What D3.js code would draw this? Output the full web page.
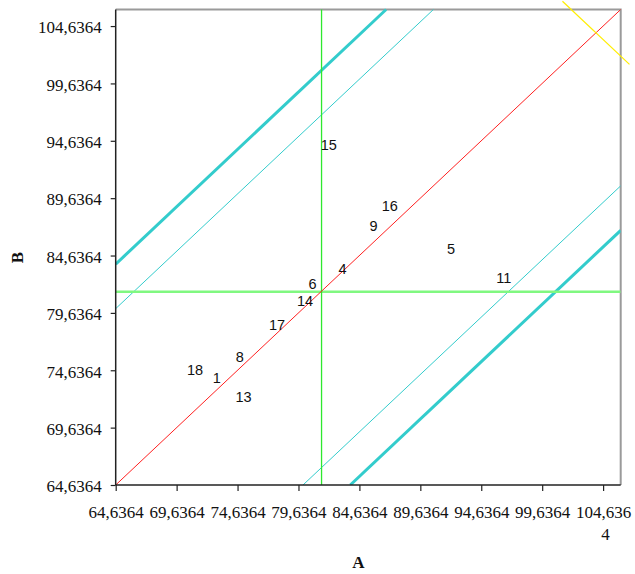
<!DOCTYPE html>
<html>
<head>
<meta charset="utf-8">
<script src="https://cdn.jsdelivr.net/npm/d3@7"></script>
<style>
  html, body { margin: 0; padding: 0; background: #fff; }
  svg { display: block; }
</style>
</head>
<body>
<svg id="chart" width="635" height="574"></svg>
<script>
// ---- data ----
const pointIds = [1, 4, 5, 6, 8, 9, 11, 13, 14, 15, 16, 17, 18];
const valuesA  = [72.93, 83.26, 92.16, 80.79, 74.82, 85.80, 96.48, 75.13, 80.18, 82.12, 87.13, 77.88, 71.15];
const valuesB  = [73.96, 83.45, 85.19, 82.15, 75.79, 87.20, 82.71, 72.30, 80.71, 94.25, 88.94, 78.57, 74.70];
const tickValues = [64.6364, 69.6364, 74.6364, 79.6364, 84.6364, 89.6364, 94.6364, 99.6364, 104.6364];
const axisMin = 64.6364;
const axisMax = 106.08;
const meanA = 81.53;
const meanB = 81.47;
const innerOffsets = [15.37, -15.37];   // thin cyan limits
const outerOffsets = [19.25, -19.25];   // thick cyan limits
const yellowSegment = [[101.3, 106.8], [106.8, 101.3]];
const xTitle = "A";
const yTitle = "B";

// ---- layout ----
const pLeft = 115.7, pRight = 620.7, pTop = 9.5, pBottom = 485;
const svg = d3.select("#chart");
const x = d3.scaleLinear().domain([axisMin, axisMax]).range([pLeft, pRight]);
const y = d3.scaleLinear().domain([axisMin, axisMax]).range([pBottom, pTop]);
const fmt = v => d3.format(".4f")(v).replace(".", ",");

svg.append("defs").append("clipPath").attr("id", "plotClip")
  .append("rect").attr("x", pLeft).attr("y", pTop - 1.5)
  .attr("width", pRight - pLeft).attr("height", pBottom - pTop + 1.5);

// frame (top & right in grey)
svg.append("path")
  .attr("d", `M${pLeft},${pTop}H${pRight}V${pBottom}`)
  .attr("fill", "none").attr("stroke", "#9a9a9a").attr("stroke-width", 2);

const plot = svg.append("g").attr("clip-path", "url(#plotClip)");
const line = d3.line().x(d => x(d[0])).y(d => y(d[1]));

function diagSegment(off) {
  const x0 = Math.max(axisMin, axisMin - off);
  const x1 = Math.min(axisMax, axisMax - off);
  return [[x0, x0 + off], [x1, x1 + off]];
}

// cyan limit lines
outerOffsets.forEach(o => {
  plot.append("path").attr("d", line(diagSegment(o)))
    .attr("fill", "none").attr("stroke", "#33cccc").attr("stroke-width", 3);
});
innerOffsets.forEach(o => {
  plot.append("path").attr("d", line(diagSegment(o)))
    .attr("fill", "none").attr("stroke", "#33cccc").attr("stroke-width", 1);
});

// mean lines
plot.append("path").attr("d", line([[axisMin, meanB], [axisMax, meanB]]))
  .attr("fill", "none").attr("stroke", "#80f880").attr("stroke-width", 2.5);
plot.append("path").attr("d", line([[meanA, axisMin], [meanA, axisMax]]))
  .attr("fill", "none").attr("stroke", "#2ee82e").attr("stroke-width", 1.3);

// identity line
plot.append("path").attr("d", line(diagSegment(0)))
  .attr("fill", "none").attr("stroke", "#ff2020").attr("stroke-width", 1);

// yellow segment (not clipped)
svg.append("path").attr("d", line(yellowSegment))
  .attr("fill", "none").attr("stroke", "#ffee00").attr("stroke-width", 1.2);

// point labels
svg.append("g").selectAll("text")
  .data(pointIds.map((id, i) => ({ id, a: valuesA[i], b: valuesB[i] })))
  .join("text")
  .attr("x", d => x(d.a)).attr("y", d => y(d.b))
  .attr("dy", "0.36em")
  .attr("text-anchor", "middle")
  .attr("font-family", "Liberation Sans, Arial, sans-serif")
  .attr("font-size", 14.5)
  .attr("fill", "#111")
  .text(d => d.id);

// axes
const xAxis = d3.axisBottom(x).tickValues(tickValues).tickFormat(fmt)
  .tickSize(6).tickSizeOuter(0).tickPadding(14.5);
const yAxis = d3.axisLeft(y).tickValues(tickValues).tickFormat(fmt)
  .tickSize(5).tickSizeOuter(0).tickPadding(9);

const gx = svg.append("g").attr("transform", `translate(0,${pBottom})`).call(xAxis);
const gy = svg.append("g").attr("transform", `translate(${pLeft},0)`).call(yAxis);

[gx, gy].forEach(g => {
  g.select(".domain").attr("stroke", "#222").attr("stroke-width", 1.5);
  g.selectAll(".tick line").attr("stroke", "#222").attr("stroke-width", 1.2);
  g.selectAll(".tick text")
    .attr("font-family", "Liberation Serif, Times New Roman, serif")
    .attr("font-size", 17).attr("fill", "#111");
});
gx.select(".domain").attr("d", `M${pLeft},0H${pRight}`);
gy.select(".domain").attr("d", `M0,${pBottom}V${pTop}`);
gy.selectAll(".tick text").attr("dy", "0.40em");

// wrap x tick labels longer than 7 characters
gx.selectAll(".tick text").each(function () {
  const t = d3.select(this);
  const s = t.text();
  if (s.length > 7) {
    t.text(null);
    t.append("tspan").attr("x", 0).text(s.slice(0, 7));
    t.append("tspan").attr("x", 2).attr("dy", 22.5).text(s.slice(7));
  }
});

// axis titles
svg.append("text").attr("x", 358.5).attr("y", 568)
  .attr("text-anchor", "middle")
  .attr("font-family", "Liberation Serif, Times New Roman, serif")
  .attr("font-weight", "bold").attr("font-size", 17).attr("fill", "#111")
  .text(xTitle);
svg.append("text")
  .attr("transform", "translate(22.7,257.5) rotate(-90)")
  .attr("text-anchor", "middle")
  .attr("font-family", "Liberation Serif, Times New Roman, serif")
  .attr("font-weight", "bold").attr("font-size", 17).attr("fill", "#111")
  .text(yTitle);
</script>
</body>
</html>
